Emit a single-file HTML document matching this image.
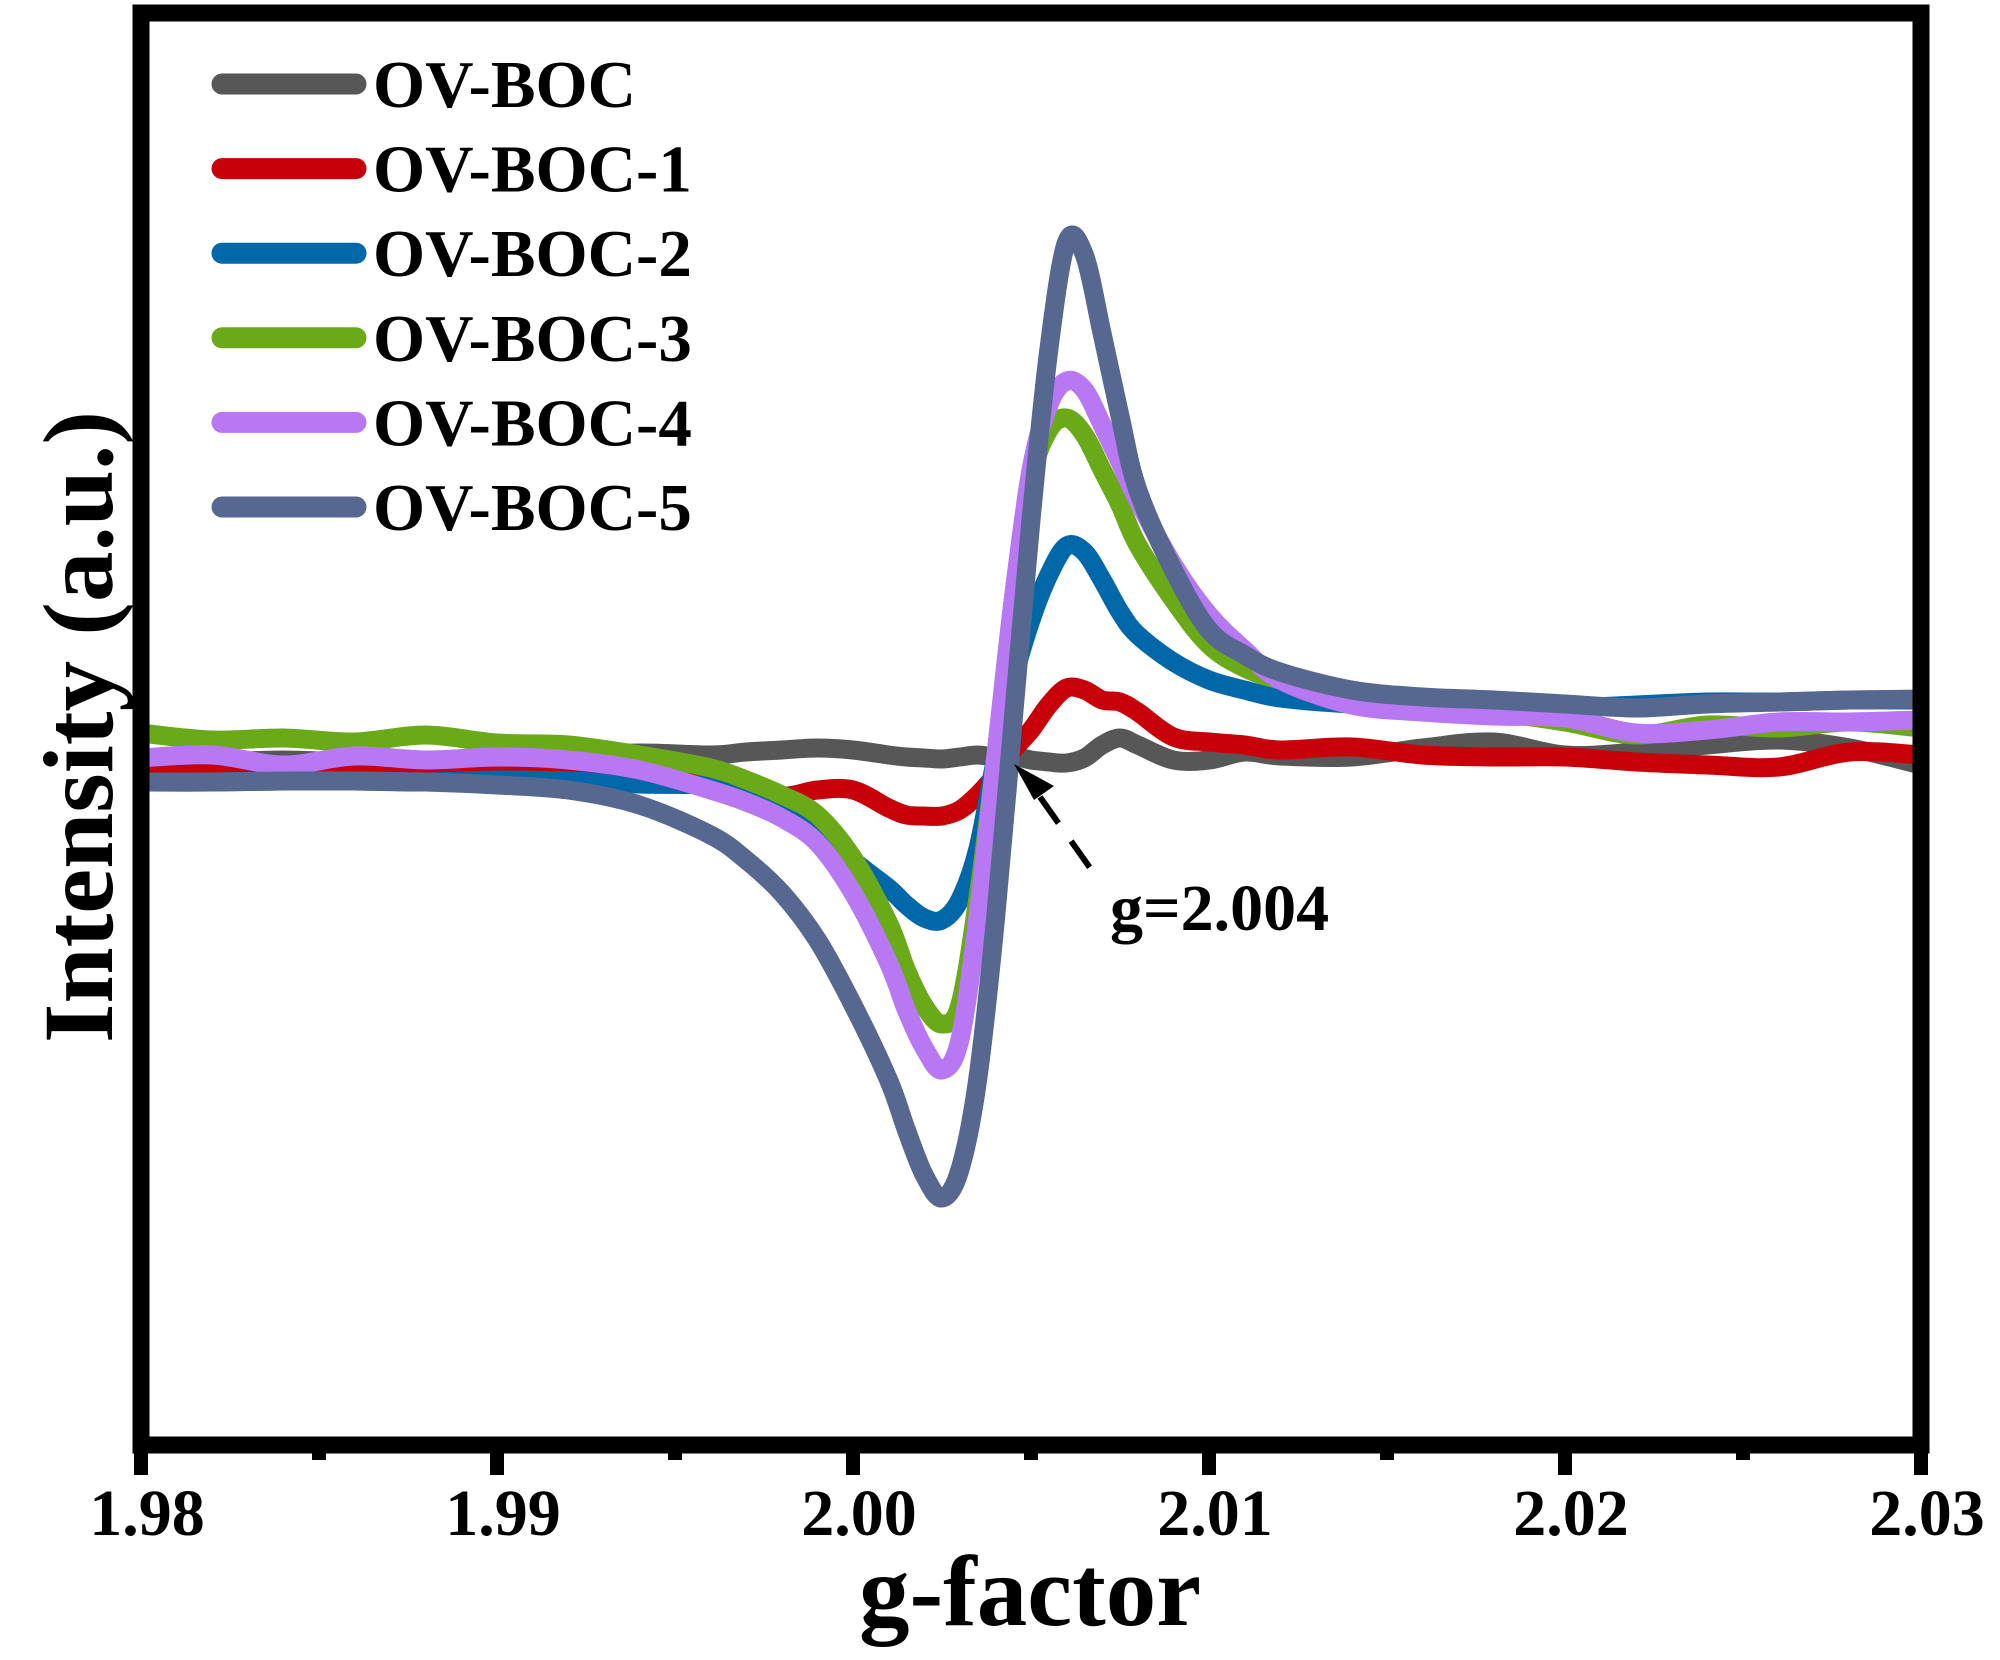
<!DOCTYPE html>
<html><head><meta charset="utf-8"><style>
html,body{margin:0;padding:0;background:#fff;}
svg{display:block;}
text{font-family:"Liberation Serif",serif;font-weight:bold;fill:#000;}
</style></head><body>
<svg id="chart" width="2000" height="1660" viewBox="0 0 2000 1660" xmlns="http://www.w3.org/2000/svg">
<g id="series-layer"></g>
<rect x="141" y="13" width="1780" height="1432" fill="none" stroke="#000" stroke-width="17"/>
<g id="ticks"></g>
<text x="1030" y="1625" font-size="101" text-anchor="middle">g-factor</text>
<text transform="translate(112,727) rotate(-90)" font-size="100" text-anchor="middle" textLength="632" lengthAdjust="spacingAndGlyphs">Intensity (a.u.)</text>
<g>
<line x1="1040" y1="797" x2="1100" y2="882" stroke="#000" stroke-width="6" stroke-dasharray="32,22"/>
<polygon points="1014,764 1054,786 1034,800" fill="#000"/>
<text x="1110" y="930" font-size="66">g=2.004</text>
</g>
<g id="legend"></g>
</svg>
<script>
const gValues=[1.980,1.982,1.984,1.986,1.988,1.990,1.992,1.994,1.996,1.997,1.998,1.999,2.000,2.001,2.0015,2.002,2.0025,2.003,2.0035,2.004,2.0045,2.005,2.0055,2.006,2.0065,2.007,2.0075,2.008,2.009,2.010,2.011,2.012,2.014,2.016,2.018,2.020,2.022,2.024,2.026,2.028,2.030];
const seriesNames=["OV-BOC","OV-BOC-1","OV-BOC-2","OV-BOC-3","OV-BOC-4","OV-BOC-5"];
const seriesColors=["#575757","#c8000a","#0068a8","#6aaa18","#b878f4","#566890"];
const ovBoc=[-4,-4,-2,-4,-2,-2,1,5,3,6,8,10,8,3,1,0,-1,1,3,1,2,-2,-4,-5,0,13,20,13,-2,-2,6,2,1,10,16,3,6,13,18,10,-7];
const ovBoc1=[-12,-10,-10,-10,-7,-10,-10,-7,-14,-24,-38,-32,-32,-50,-57,-58,-58,-52,-37,-17,8,28,53,70,68,58,56,46,21,16,13,8,11,3,1,1,-4,-7,-9,6,3];
const ovBoc2=[-24,-24,-23,-23,-24,-22,-23,-26,-27,-32,-42,-64,-102,-130,-147,-160,-162,-142,-92,-2,78,138,183,212,206,178,146,123,96,78,68,60,54,52,51,50,53,56,56,58,58];
const ovBoc3=[25,18,20,16,23,15,13,3,-10,-22,-37,-57,-100,-165,-212,-248,-266,-247,-142,-2,158,278,328,340,323,288,253,213,158,113,90,78,63,53,46,36,23,33,30,36,30];
const ovBoc4=[0,3,-7,2,-2,1,-2,-12,-32,-44,-60,-85,-135,-205,-252,-290,-312,-282,-162,-2,158,288,353,377,368,333,296,258,193,143,108,78,53,46,42,40,25,28,36,36,38];
const ovBoc5=[-24,-24,-23,-23,-24,-27,-32,-47,-77,-102,-135,-182,-247,-322,-372,-417,-440,-412,-322,-162,38,238,408,516,503,424,342,268,188,128,103,86,68,61,58,54,50,54,56,58,59];
const xTickValues=[1.98,1.99,2.00,2.01,2.02,2.03];
const xTickLabels=["1.98","1.99","2.00","2.01","2.02","2.03"];
const xMinorValues=[1.985,1.995,2.005,2.015,2.025];

const allSeries=[ovBoc,ovBoc1,ovBoc2,ovBoc3,ovBoc4,ovBoc5];
const NS="http://www.w3.org/2000/svg";
const X0=141,X1=1921,G0=1.98,G1=2.03;
const Y0=1445,Y1=13,I0=-687,I1=745;
function xScale(g){return X0+(g-G0)/(G1-G0)*(X1-X0);}
function yScale(v){return Y0+(v-I0)/(I1-I0)*(Y1-Y0);}
function smoothPath(pts){
  let d="M"+pts[0][0].toFixed(1)+","+pts[0][1].toFixed(1);
  for(let i=0;i<pts.length-1;i++){
    const p0=pts[Math.max(0,i-1)],p1=pts[i],p2=pts[i+1],p3=pts[Math.min(pts.length-1,i+2)];
    const c1x=p1[0]+(p2[0]-p0[0])/6,c1y=p1[1]+(p2[1]-p0[1])/6;
    const c2x=p2[0]-(p3[0]-p1[0])/6,c2y=p2[1]-(p3[1]-p1[1])/6;
    d+=" C"+c1x.toFixed(1)+","+c1y.toFixed(1)+" "+c2x.toFixed(1)+","+c2y.toFixed(1)+" "+p2[0].toFixed(1)+","+p2[1].toFixed(1);
  }
  return d;
}
const layer=document.getElementById("series-layer");
const clip=document.createElementNS(NS,"clipPath");clip.setAttribute("id","plotclip");
const cr=document.createElementNS(NS,"rect");cr.setAttribute("x",149);cr.setAttribute("y",21);cr.setAttribute("width",1764);cr.setAttribute("height",1416);
clip.appendChild(cr);document.getElementById("chart").insertBefore(clip,layer);
layer.setAttribute("clip-path","url(#plotclip)");
allSeries.forEach((vals,si)=>{
  const pts=gValues.map((g,i)=>[xScale(g),yScale(vals[i])]);
  const p=document.createElementNS(NS,"path");
  p.setAttribute("d",smoothPath(pts));
  p.setAttribute("fill","none");p.setAttribute("stroke",seriesColors[si]);
  p.setAttribute("stroke-width","19");p.setAttribute("stroke-linejoin","round");p.setAttribute("stroke-linecap","round");
  
  
  layer.appendChild(p);
});
const ticks=document.getElementById("ticks");
xTickValues.forEach((v,i)=>{
  const x=xScale(v);
  const l=document.createElementNS(NS,"line");
  l.setAttribute("x1",x);l.setAttribute("x2",x);l.setAttribute("y1",1445);l.setAttribute("y2",1475);
  l.setAttribute("stroke","#000");l.setAttribute("stroke-width","14");
  
  
  ticks.appendChild(l);
  const t=document.createElementNS(NS,"text");
  t.setAttribute("x",x+6);t.setAttribute("y",1535);t.setAttribute("font-size","66");t.setAttribute("text-anchor","middle");
  t.textContent=xTickLabels[i];
  
  
  ticks.appendChild(t);
});
xMinorValues.forEach(v=>{
  const x=xScale(v);
  const l=document.createElementNS(NS,"line");
  l.setAttribute("x1",x);l.setAttribute("x2",x);l.setAttribute("y1",1445);l.setAttribute("y2",1460);
  l.setAttribute("stroke","#000");l.setAttribute("stroke-width","14");
  
  
  ticks.appendChild(l);
});
const legend=document.getElementById("legend");
seriesNames.forEach((n,i)=>{
  const cy=84+i*84.6;
  const g=document.createElementNS(NS,"g");
  
  
  const l=document.createElementNS(NS,"line");
  l.setAttribute("x1",222);l.setAttribute("x2",356);l.setAttribute("y1",cy);l.setAttribute("y2",cy);
  l.setAttribute("stroke",seriesColors[i]);l.setAttribute("stroke-width","21");l.setAttribute("stroke-linecap","round");
  
  
  g.appendChild(l);
  const t=document.createElementNS(NS,"text");
  t.setAttribute("x",373);t.setAttribute("y",cy+23);t.setAttribute("font-size","67");
  t.textContent=n;
  
  
  g.appendChild(t);
  legend.appendChild(g);
});
</script>
</body></html>
